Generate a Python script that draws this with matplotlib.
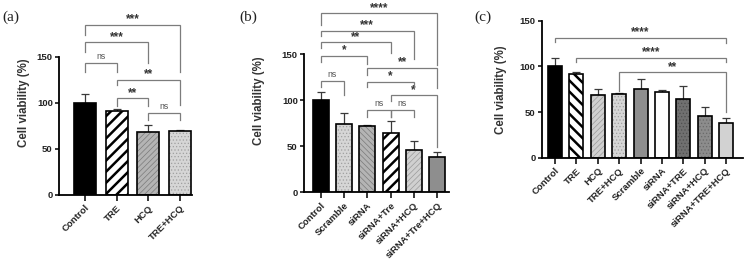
import matplotlib
matplotlib.use("Agg")
import matplotlib.pyplot as plt
import numpy as np

plt.rcParams['font.family'] = ['Liberation Sans', 'DejaVu Sans']

# ---- data ----
groups_a = ['Control', 'TRE', 'HCQ', 'TRE+HCQ']
means_a = [100, 91, 68.5, 69.5]
errs_a = [10, 3, 8, 1]

groups_b = ['Control', 'Scramble', 'siRNA', 'siRNA+Tre', 'siRNA+HCQ', 'siRNA+Tre+HCQ']
means_b = [100, 74, 72.5, 64, 46, 38]
errs_b = [8.5, 12, 1, 14, 10, 6]

groups_c = ['Control', 'TRE', 'HCQ', 'TRE+HCQ', 'Scramble', 'siRNA',
            'siRNA+TRE', 'siRNA+HCQ', 'siRNA+TRE+HCQ']
means_c = [100, 91.3, 68.7, 69.4, 75, 71.6, 64, 45.7, 37.7]
errs_c = [9, 2, 6.5, 1, 11, 2, 14.5, 10, 6]

# significance brackets: (left bar, right bar, level, label, left leg end, right leg end)
sig_a = [(0, 3, 185, '***', 174, 134),
         (0, 2, 166, '***', 155, 143),
         (0, 1, 143, 'ns', 134, 134),
         (1, 3, 125, '**', 120, 98),
         (1, 2, 105, '**', 97, 97),
         (2, 3, 89, 'ns', 82, 82)]
sig_b = [(0, 5, 194.5, '****', 182, 138),
         (0, 4, 175.5, '***', 170, 145),
         (0, 3, 163, '**', 157, 151),
         (0, 2, 148, '*', 142, 140),
         (0, 1, 121, 'ns', 115, 106),
         (2, 5, 135, '**', 127, 113),
         (2, 4, 120, '*', 114, 114),
         (3, 5, 105.5, '*', 99, 49),
         (2, 3, 89, 'ns', 82, 82),
         (3, 4, 89, 'ns', 82, 82)]
sig_c = [(0, 8, 131, '****', 126.5, 125.5),
         (1, 8, 109.5, '****', 105, 105),
         (3, 8, 93.5, '**', 72.5, 50)]

# ---- bar fill styles ----
STYLES = {
    'black': dict(fc='black'),
    'stripe': dict(fc='white', hatch='///', hc='black', hlw=1.8),
    'stripe_r': dict(fc='white', hatch='\\\\\\', hc='black', hlw=1.8),
    'fine': dict(fc='#b4b4b4', hatch='//////', hc='#7a7a7a', hlw=0.5),
    'fine_r': dict(fc='#b4b4b4', hatch='\\\\\\\\\\\\', hc='#7a7a7a', hlw=0.5),
    'fine_light': dict(fc='#d0d0d0', hatch='//////', hc='#9a9a9a', hlw=0.5),
    'dots': dict(fc='#d6d6d6', hatch='.....', hc='#a0a0a0', hlw=0.5),
    'gray': dict(fc='#8e8e8e'),
    'white': dict(fc='white'),
    'light': dict(fc='#d2d2d2'),
    'darkdots': dict(fc='#707070', hatch='.....', hc='#505050', hlw=0.5),
    'graydots': dict(fc='#8c8c8c', hatch='.....', hc='#6a6a6a', hlw=0.5),
}
styles_a = ['black', 'stripe', 'fine', 'dots']
styles_b = ['black', 'dots', 'fine_r', 'stripe', 'fine_light', 'gray']
styles_c = ['black', 'stripe_r', 'fine_light', 'dots', 'gray', 'white',
            'darkdots', 'graydots', 'light']

BRACKET = '#7c7c7c'
TXT = '#222222'


def draw_bars(ax, names, means, errs, styles, width):
    x = np.arange(len(names))
    ax.errorbar(x, means, yerr=[np.zeros(len(errs)), errs], fmt='none',
                ecolor='#3a3a3a', elinewidth=0.9, capsize=3.2, capthick=0.9, zorder=1)
    for xi, m, key in zip(x, means, styles):
        st = STYLES[key]
        b = ax.bar(xi, m, width, color=st['fc'], edgecolor=st.get('hc', st['fc']),
                   linewidth=0, hatch=st.get('hatch'), zorder=2)[0]
        if st.get('hatch') and hasattr(b, 'set_hatch_linewidth'):
            b.set_hatch_linewidth(st['hlw'])
        ax.bar(xi, m, width, fill=False, edgecolor='black', linewidth=1.2, zorder=3)
    ax.set_xticks(x)
    ax.set_xticklabels(names, rotation=45, ha='right', rotation_mode='anchor',
                       fontsize=6.8, fontweight='bold', color=TXT)


def draw_brackets(ax, sig):
    for i, j, y, lab, yl, yr in sig:
        ax.plot([i, i, j, j], [yl, y, y, yr], color=BRACKET, lw=0.9,
                clip_on=False, zorder=4, solid_joinstyle='miter')
        if lab == 'ns':
            ax.text((i + j) / 2, y + 2.5, lab, ha='center', va='bottom',
                    fontsize=6.3, color='#555555', clip_on=False)
        else:
            ax.text((i + j) / 2, y - 0.5, lab, ha='center', va='bottom',
                    fontsize=8.5, color='#333333', fontweight='bold', clip_on=False)


def style_axis(ax, xlim, ylim, labelpad):
    ax.set_xlim(*xlim)
    ax.set_ylim(*ylim)
    for s in ['top', 'right']:
        ax.spines[s].set_visible(False)
    ax.spines['left'].set_bounds(0, 150)
    ax.spines['left'].set_linewidth(1.3)
    ax.spines['bottom'].set_linewidth(1.3)
    ax.set_yticks([0, 50, 100, 150])
    ax.tick_params(axis='y', labelsize=6.8, length=3, width=1.1, pad=1.5,
                   labelcolor=TXT)
    ax.tick_params(axis='x', length=4, width=1.1, pad=2)
    for t in ax.get_yticklabels():
        t.set_fontweight('bold')
    ax.set_ylabel('Cell viability (%)', fontsize=8.3, fontweight='bold',
                  color='#333333', labelpad=labelpad)


W, H = 746, 268
fig = plt.figure(figsize=(W / 100, H / 100), dpi=100)

ax_a = fig.add_axes([59 / W, (H - 195) / H, 133 / W, 184 / H])
draw_bars(ax_a, groups_a, means_a, errs_a, styles_a, 0.69)
style_axis(ax_a, (-0.82, 3.38), (0, 200), 5)
draw_brackets(ax_a, sig_a)

ax_b = fig.add_axes([304 / W, (H - 192.3) / H, 144.5 / W, 184 / H])
draw_bars(ax_b, groups_b, means_b, errs_b, styles_b, 0.69)
style_axis(ax_b, (-0.73, 5.5), (0, 200), 12)
draw_brackets(ax_b, sig_b)

ax_c = fig.add_axes([541.7 / W, (H - 157.7) / H, 201.6 / W, 137 / H])
draw_bars(ax_c, groups_c, means_c, errs_c, styles_c, 0.65)
style_axis(ax_c, (-0.62, 8.8), (0, 150), 9)
draw_brackets(ax_c, sig_c)

for lab, px in [('(a)', 2), ('(b)', 239), ('(c)', 474)]:
    fig.text(px / W, 1 - 17 / H, lab, fontsize=11, va='center', ha='left',
             family=['Liberation Serif', 'DejaVu Serif'], color='#222222')

fig.savefig('out.png', dpi=100)
